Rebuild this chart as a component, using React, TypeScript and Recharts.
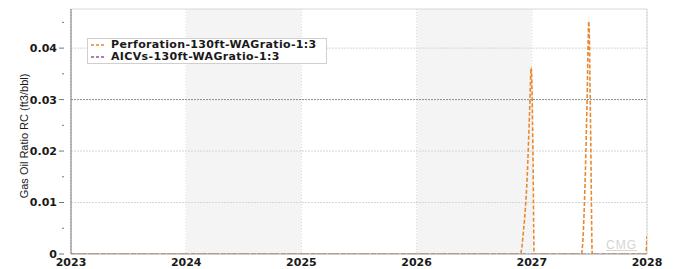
import {
  ComposedChart,
  Line,
  XAxis,
  YAxis,
  CartesianGrid,
  ReferenceArea,
  ReferenceLine,
  Legend,
} from "recharts";

// time in decimal years
const times = [
  2023, 2024, 2025, 2026, 2026.9, 2026.93, 2026.96, 2026.98, 2026.995, 2027.01,
  2027.02, 2027.43, 2027.46, 2027.48, 2027.495, 2027.51, 2027.525, 2027.99, 2028,
];
const perforation = [
  0, 0, 0, 0, 0, 0.005, 0.015, 0.027, 0.0362, 0.02,
  0, 0, 0.012, 0.03, 0.0452, 0.025, 0, 0, 0.0035,
];
const aicvs = [
  0, 0, 0, 0, 0, 0, 0, 0, 0, 0,
  0, 0, 0, 0, 0, 0, 0, 0, 0,
];

const yearTicks = [2023, 2024, 2025, 2026, 2027, 2028];
const yTicks = [0, 0.005, 0.01, 0.015, 0.02, 0.025, 0.03, 0.035, 0.04, 0.045];
const majorY = [0, 0.01, 0.02, 0.03, 0.04];
const shadedYears = [[2024, 2025], [2026, 2027]];

const seriesNames = ["Perforation-130ft-WAGratio-1:3", "AICVs-130ft-WAGratio-1:3"];
const seriesColors = ["#e8892f", "#9c4f9e"];

const Y_MAX = 0.0476;
const TICK_FONT = "DejaVu Sans, Verdana, sans-serif";

const data = times.map((t, i) => ({ t, perf: perforation[i], aicv: aicvs[i] }));

const YTick = ({ x, y, payload }: any) => {
  const major = majorY.some((v) => Math.abs(v - payload.value) < 1e-9);
  return (
    <g>
      <line x1={x + 1} x2={x + 1 - (major ? 5 : 2)} y1={y} y2={y} stroke="#777" />
      {major && (
        <text x={x - 6} y={y} dy="0.36em" textAnchor="end" fontSize={11} fontWeight="bold" fill="#1a1a1a"
          fontFamily={TICK_FONT}>
          {payload.value === 0 ? "0" : payload.value.toFixed(2)}
        </text>
      )}
    </g>
  );
};

const LegendBox = () => (
  <div
    style={{
      border: "1px solid #cfcfcf",
      background: "#fff",
      padding: "0px 9px 0px 2px",
      fontFamily: TICK_FONT,
      fontSize: 11,
      letterSpacing: 0.35,
      fontWeight: "bold",
      color: "#1a1a1a",
      lineHeight: "12px",
      width: "max-content",
    }}
  >
    {seriesNames.map((n, i) => (
      <div key={n} style={{ display: "flex", alignItems: "center" }}>
        <svg width={21} height={12}>
          <line x1={1} x2={15} y1={6} y2={6} stroke={seriesColors[i]} strokeWidth={1.5} strokeDasharray="3 2" />
        </svg>
        <span>{n}</span>
      </div>
    ))}
  </div>
);

export default function App() {
  return (
    <div style={{ position: "absolute", left: 0, top: 0, width: 674, height: 269, background: "#fff" }}>
      <ComposedChart width={674} height={269} data={data} margin={{ top: 9, right: 27, bottom: 0, left: 0 }}>
        {shadedYears.map(([a, b]) => (
          <ReferenceArea key={a} x1={a} x2={b} y1={0} y2={Y_MAX} fill="#f4f4f4" fillOpacity={1} stroke="none" />
        ))}
        <CartesianGrid horizontal={false} stroke="#c4c4c4" strokeDasharray="1 2" />
        {majorY.slice(1).map((v) => (
          <ReferenceLine key={v} y={v} stroke={v === 0.03 ? "#8a8a8a" : "#d6d6d6"} strokeDasharray="2 1" />
        ))}
        <ReferenceLine y={Y_MAX} stroke="#d8d8d8" />
        <ReferenceLine x={2028} stroke="#d8d8d8" />
        <XAxis
          dataKey="t"
          type="number"
          domain={[2023, 2028]}
          ticks={yearTicks}
          height={15}
          tickLine={false}
          tickSize={0}
          tickMargin={4}
          axisLine={{ stroke: "#999" }}
          tick={{ fontSize: 11, fontWeight: "bold", fill: "#1a1a1a", fontFamily: TICK_FONT }}
          allowDataOverflow
        />
        <YAxis
          type="number"
          domain={[0, Y_MAX]}
          ticks={yTicks}
          width={71}
          tickLine={false}
          axisLine={{ stroke: "#777" }}
          tick={<YTick />}
          interval={0}
          allowDataOverflow
          label={{
            content: () => (
              <text
                x={24}
                y={136}
                transform="rotate(-90 24 136)"
                textAnchor="middle"
                dominantBaseline="central"
                fontSize={11}
                fill="#1a1a1a"
                fontFamily="Liberation Sans, Arial, sans-serif"
              >
                Gas Oil Ratio RC (ft3/bbl)
              </text>
            ),
          }}
        />
        <Legend
          content={<LegendBox />}
          layout="vertical"
          verticalAlign="middle"
          align="center"
          wrapperStyle={{ left: 87, top: 38, width: "auto" }}
        />
        <Line
          dataKey="aicv"
          name={seriesNames[1]}
          stroke={seriesColors[1]}
          strokeWidth={1.2}
          strokeDasharray="5 2 1 2"
          dot={false}
          type="linear"
          isAnimationActive={false}
        />
        <Line
          dataKey="perf"
          name={seriesNames[0]}
          stroke={seriesColors[0]}
          strokeWidth={1.6}
          strokeDasharray="4 2"
          dot={false}
          type="monotone"
          isAnimationActive={false}
        />
      </ComposedChart>
      <div
        style={{
          position: "absolute",
          left: 606,
          top: 238,
          fontFamily: "Liberation Sans, Arial, sans-serif",
          fontSize: 12,
          color: "#d4d4d4",
          textDecoration: "underline",
          letterSpacing: 1,
        }}
      >
        CMG
      </div>
    </div>
  );
}
